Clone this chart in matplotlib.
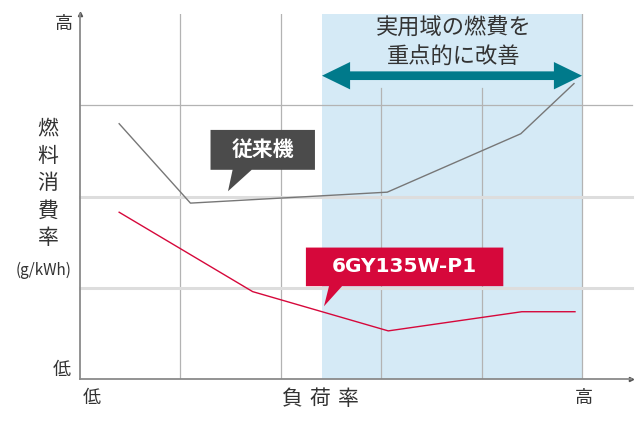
import matplotlib.pyplot as plt
from matplotlib.patches import Polygon, FancyArrow

plt.rcParams['font.family'] = ['Noto Sans CJK JP', 'DejaVu Sans']

# 負荷率 (グリッド1マス単位) と 燃料消費率 (相対値)
load_old = [0.39, 1.10, 3.06, 4.39, 4.92]
fuel_old = [2.80, 1.93, 2.05, 2.69, 3.24]
load_new = [0.39, 1.72, 3.07, 4.40, 4.93]
fuel_new = [1.83, 0.96, 0.53, 0.74, 0.74]

name_old = '従来機'
name_new = '6GY135W-P1'
range_text = '実用域の燃費を\n重点的に改善'
range_lo, range_hi = 2.41, 5.0

TXT = '#333333'
RED = '#d6083b'
GRAY_LINE = '#777777'

fig = plt.figure(figsize=(6.4, 4.3), dpi=100)
ax = fig.add_axes([0.125, 0.118, 0.8605, 0.849])
ax.set_xlim(0, 5.485)
ax.set_ylim(0, 4.0)

# 実用域
ax.axvspan(range_lo, range_hi, color='#d5eaf6', lw=0, zorder=0)

# grid
for gx in [1, 2, 5]:
    ax.plot([gx, gx], [0, 4.0], color='#b3b3b3', lw=0.9, zorder=1)
for gx in [3, 4]:
    ax.plot([gx, gx], [0, 3.19], color='#b3b3b3', lw=0.9, zorder=1)
ax.plot([0, 5.5], [3, 3], color='#b3b3b3', lw=0.9, zorder=1, clip_on=False)
for gy in [1, 2]:
    ax.plot([0, 5.5], [gy, gy], color='#dddddd', lw=2.2, zorder=1, clip_on=False)

ax.plot(load_old, fuel_old, color=GRAY_LINE, lw=1.0, zorder=3)
ax.plot(load_new, fuel_new, color=RED, lw=1.0, zorder=3)

# axes
for s in ['top', 'right']:
    ax.spines[s].set_visible(False)
for s in ['left', 'bottom']:
    ax.spines[s].set_color('#8a8a8a')
    ax.spines[s].set_linewidth(1.3)
ax.set_xticks([])
ax.set_yticks([])
ax.plot(1, 0, '>', color='#555555', ms=3, transform=ax.transAxes, clip_on=False)
ax.plot(0, 1, '^', color='#555555', ms=3, transform=ax.transAxes, clip_on=False)

# double arrow
ay = 3.326
mid = (range_lo + range_hi) / 2
for end in [range_lo, range_hi]:
    ax.add_patch(FancyArrow(mid, ay, end - mid, 0, width=0.095, head_width=0.30,
                            head_length=0.28, length_includes_head=True,
                            color='#007a8b', lw=0, zorder=4))
ax.text(3.72, 3.69, range_text, ha='center', va='center', fontsize=16,
        color=TXT, linespacing=1.3, zorder=5)


def callout(x0, x1, y0, y1, b0, b1, tip, color, label, **kw):
    pts = [(x0, y0), (x0, y1), (x1, y1), (x1, y0), (b1, y0), tip, (b0, y0)]
    ax.add_patch(Polygon(pts, closed=True, facecolor=color, edgecolor='none', zorder=6))
    ax.text((x0 + x1) / 2, (y0 + y1) / 2, label, ha='center', va='center',
            color='white', fontweight='bold', zorder=7, **kw)


callout(1.30, 2.34, 2.295, 2.732, 1.52, 1.71, (1.474, 2.06), '#4b4b4b', name_old,
        fontsize=15)
callout(2.25, 4.216, 1.02, 1.443, 2.48, 2.61, (2.43, 0.80), RED, name_new,
        fontsize=14.5, family='DejaVu Sans')

# labels
fig.text(64 / 640, 1 - 24 / 430, '高', ha='center', va='center', fontsize=13, color=TXT)
fig.text(62 / 640, 1 - 370 / 430, '低', ha='center', va='center', fontsize=13, color=TXT)
fig.text(92 / 640, 1 - 398 / 430, '低', ha='center', va='center', fontsize=13, color=TXT)
fig.text(584 / 640, 1 - 398 / 430, '高', ha='center', va='center', fontsize=13, color=TXT)
for i, ch in enumerate('負荷率'):
    fig.text((292 + i * 28) / 640, 1 - 399 / 430, ch, ha='center', va='center',
             fontsize=15, color=TXT)
for i, ch in enumerate('燃料消費率'):
    fig.text(48 / 640, 1 - (128 + i * 27.5) / 430, ch, ha='center', va='center',
             fontsize=15, color=TXT)
fig.text(44 / 640, 1 - 270 / 430, '(g/kWh)', ha='center', va='center',
         fontsize=11, color=TXT)

fig.savefig('out.png', dpi=100)
